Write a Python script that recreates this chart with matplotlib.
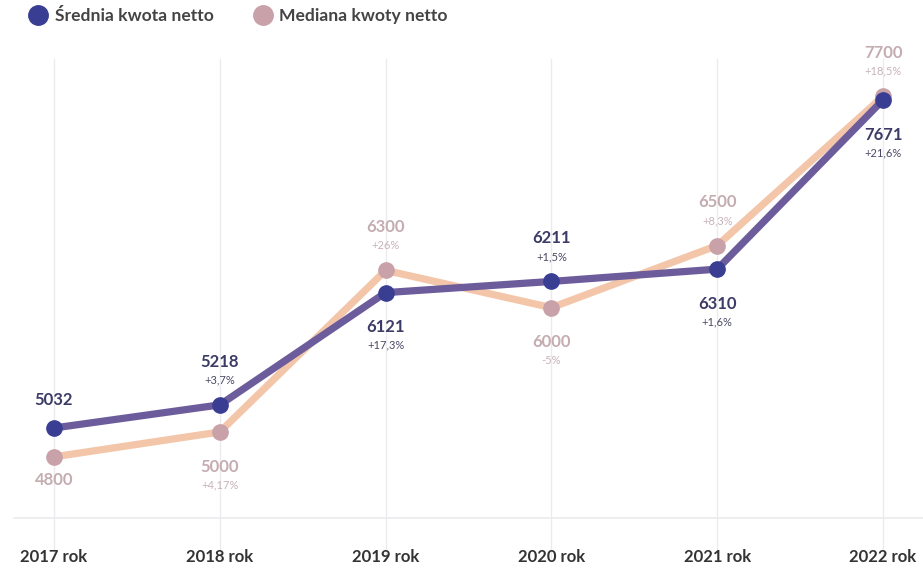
import matplotlib
matplotlib.use("Agg")
import matplotlib.pyplot as plt
from matplotlib.lines import Line2D

plt.rcParams['font.family'] = ['Lato', 'DejaVu Sans']

years = ["2017 rok", "2018 rok", "2019 rok", "2020 rok", "2021 rok", "2022 rok"]
mean_vals = [5032, 5218, 6121, 6211, 6310, 7671]
mean_pct = ["", "+3,7%", "+17,3%", "+1,5%", "+1,6%", "+21,6%"]
median_vals = [4800, 5000, 6300, 6000, 6500, 7700]
median_pct = ["", "+4,17%", "+26%", "-5%", "+8,3%", "+18,5%"]
mean_place = ["above", "above", "below", "above", "below", "below"]
median_place = ["below", "below", "above", "below", "above", "above"]

W, H = 923, 569
fig = plt.figure(figsize=(W / 100, H / 100), dpi=100)
ax = fig.add_axes([0, 0, 1, 1])
ax.set_xlim(-0.3257, 5.241)
ax.set_ylim(3897.6, 8475)
ax.axis('off')

x = list(range(len(years)))

# grid lines
for xi in x:
    ax.plot([xi, xi], [3990, 8000], color='#ebebef', lw=1, zorder=0)
ax.plot([-0.24, 5.241], [4308, 4308], color='#ebebef', lw=1.2, zorder=0)

# lines
ax.plot(x, median_vals, color='#f3c6a9', lw=5.2, solid_capstyle='round', zorder=2)
ax.plot(x, mean_vals, color='#6c5c9b', lw=5.2, solid_capstyle='round', zorder=3)
ax.plot(x, median_vals, 'o', color='#c9a1a9', ms=11, zorder=4)
ax.plot(x, mean_vals, 'o', color='#3a3e93', ms=11, zorder=5)

mean_val_col = '#3b3b66'
mean_pct_col = '#4a4a66'
med_val_col = '#c4acb1'
med_pct_col = '#c7b3b7'

def label(xi, v, pct, place, vcol, pcol):
    if place == "above":
        dv, dp = 31, 18
    else:
        dv, dp = -25, -38
    if pct == "":
        dv = 20 if place == "above" else -17
    ax.annotate(str(v), (xi, v), xytext=(0, dv), textcoords='offset points',
                ha='center', va='center', fontsize=12, fontweight='bold', color=vcol)
    if pct:
        ax.annotate(pct, (xi, v), xytext=(0, dp), textcoords='offset points',
                    ha='center', va='center', fontsize=8, color=pcol)

for i in x:
    label(i, mean_vals[i], mean_pct[i], mean_place[i], mean_val_col, mean_pct_col)
    label(i, median_vals[i], median_pct[i], median_place[i], med_val_col, med_pct_col)

# x tick labels
for i, yl in enumerate(years):
    ax.text(i, 3897.6 + (569 - 557) / 0.1243, yl, ha='center', va='center',
            fontsize=12, fontweight='bold', color='#333333')

# legend
handles = [Line2D([], [], marker='o', ls='', color='#3a3e93', ms=14),
           Line2D([], [], marker='o', ls='', color='#c9a1a9', ms=14)]
leg = fig.legend(handles, ["Średnia kwota netto", "Mediana kwoty netto"],
                 loc='upper left', bbox_to_anchor=(0.013, 1.014), ncol=2, frameon=False,
                 prop={'family': ['Lato', 'DejaVu Sans'], 'weight': 'bold', 'size': 12.6},
                 handletextpad=0.35, columnspacing=2.2, handlelength=1.2)
for t in leg.get_texts():
    t.set_color('#444444')

fig.savefig("out.png", dpi=100)
